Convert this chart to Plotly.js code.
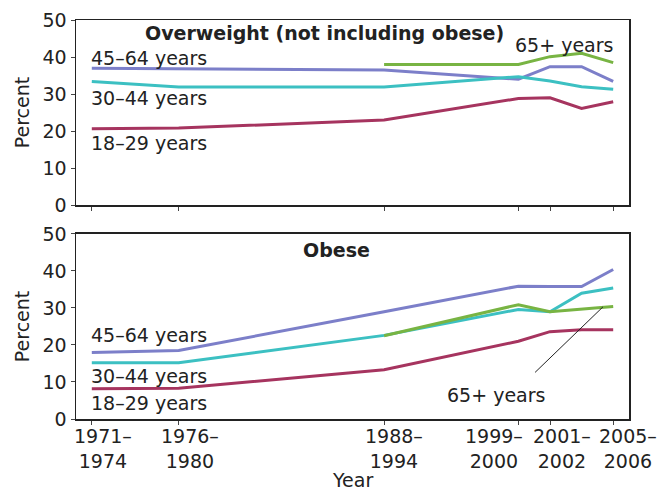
<!DOCTYPE html>
<html>
<head>
<meta charset="utf-8">
<script src="https://cdn.plot.ly/plotly-3.0.1.min.js"></script>
<style>html,body{margin:0;padding:0;background:#fff;}#chart{width:660px;height:493px;}</style>
</head>
<body>
<div id="chart"></div>
<script>
// Survey periods and their midpoint years (x positions on a year scale)
const periods = ['1971–1974','1976–1980','1988–1994','1999–2000','2001–2002','2003–2004','2005–2006'];
const periodMid = [1972.5, 1978, 1991, 1999.5, 2001.5, 2003.5, 2005.5];
const labelledPeriods = ['1971–1974','1976–1980','1988–1994','1999–2000','2001–2002','2005–2006'];

// Overweight (not including obese), percent
const ow_18_29 = [20.6, 20.8, 23.0, 28.8, 29.0, 26.1, 27.9];
const ow_30_44 = [33.4, 31.9, 31.9, 34.7, 33.5, 32.0, 31.3];
const ow_45_64 = [37.0, 36.8, 36.5, 34.0, 37.4, 37.4, 33.4];
const ow_65 = [null, null, 38.0, 38.0, 40.1, 41.0, 38.5];

// Obese, percent
const ob_18_29 = [8.2, 8.3, 13.3, 21.0, 23.6, 24.1, 24.1];
const ob_30_44 = [15.2, 15.2, 22.6, 29.6, 29.0, 34.0, 35.4];
const ob_45_64 = [18.0, 18.5, 29.0, 35.9, 35.8, 35.8, 40.4];
const ob_65 = [null, null, 22.5, 30.9, 29.0, 29.6, 30.4];

const yTicks = [0, 10, 20, 30, 40, 50];

const tickVals = labelledPeriods.map(p => periodMid[periods.indexOf(p)]);
const tickText = labelledPeriods.map(p => p.replace('–', '–<br>'));
// horizontal nudge (px) of each two-line tick label, as set in the original figure
const tickShift = [11, 11, 10, -24, 12, 15];

const C = {a45: '#7c7fc9', a30: '#3cc0c2', a18: '#a6345f', a65: '#78b443'};
const FONT = 'DejaVu Sans, Liberation Sans, Arial, sans-serif';
const TXT = '#222';

function tr(y, color, xa, ya) {
  return {x: periodMid, y: y, type: 'scatter', mode: 'lines', xaxis: xa, yaxis: ya,
          line: {color: color, width: 3}, connectgaps: false, hoverinfo: 'skip'};
}

const data = [
  tr(ow_45_64, C.a45, 'x', 'y'), tr(ow_30_44, C.a30, 'x', 'y'), tr(ow_18_29, C.a18, 'x', 'y'), tr(ow_65, C.a65, 'x', 'y'),
  tr(ob_45_64, C.a45, 'x2', 'y2'), tr(ob_30_44, C.a30, 'x2', 'y2'), tr(ob_18_29, C.a18, 'x2', 'y2'), tr(ob_65, C.a65, 'x2', 'y2')
];

const axLine = {showline: true, mirror: true, linecolor: '#222', linewidth: 1.5, showgrid: false, zeroline: false,
                ticks: 'outside', ticklen: 4, tickwidth: 1, tickcolor: '#444'};

function yax(domain) {
  return Object.assign({}, axLine, {domain: domain, range: [0, 50], tickvals: yTicks,
    tickfont: {family: FONT, size: 19, color: TXT},
    title: {text: 'Percent', font: {family: FONT, size: 19, color: TXT}, standoff: 8}});
}

function note(text, x, y, ref, opts) {
  return Object.assign({text: text, x: x, y: y, xref: 'x' + ref, yref: 'y' + ref, showarrow: false,
    xanchor: 'left', yanchor: 'middle', font: {family: FONT, size: 19, color: TXT}}, opts || {});
}

const tickNotes = tickVals.map((v, i) => ({
  text: tickText[i], x: v, xref: 'x2', y: 0, yref: 'paper', yanchor: 'top', xanchor: 'center',
  xshift: tickShift[i], yshift: -4, showarrow: false, align: 'center',
  font: {family: FONT, size: 19, color: TXT}
}));

const layout = {
  width: 660, height: 493,
  margin: {l: 76, r: 31, t: 20, b: 74},
  paper_bgcolor: '#fff', plot_bgcolor: '#fff',
  showlegend: false,
  xaxis: Object.assign({}, axLine, {domain: [0, 1], anchor: 'y', range: [1971.5, 2006.5],
    tickvals: tickVals, showticklabels: false}),
  yaxis: yax([0.536, 1]),
  xaxis2: Object.assign({}, axLine, {domain: [0, 1], anchor: 'y2', range: [1971.5, 2006.5],
    tickvals: tickVals, showticklabels: false}),
  yaxis2: yax([0, 0.4637]),
  annotations: [
    note('<b>Overweight (not including obese)</b>', 1987.2, 46.5, '', {xanchor: 'center'}),
    note('45–64 years', 1972.3, 39.7, ''),
    note('30–44 years', 1972.3, 28.9, ''),
    note('18–29 years', 1972.3, 16.7, ''),
    note('65+ years', 2002.4, 43.2, '', {xanchor: 'center'}),
    note('<b>Obese</b>', 1988.0, 45.7, '2', {xanchor: 'center'}),
    note('45–64 years', 1972.3, 22.7, '2'),
    note('30–44 years', 1972.3, 11.6, '2'),
    note('18–29 years', 1972.3, 4.3, '2'),
    note('65+ years', 1998.1, 6.5, '2', {xanchor: 'center'}),
    {text: '', x: 2004.85, y: 30.3, xref: 'x2', yref: 'y2', ax: 2000.46, ay: 12.2, axref: 'x2', ayref: 'y2',
     showarrow: true, arrowhead: 0, arrowwidth: 1, arrowcolor: '#222'},
    {text: 'Year', x: 0.5, xref: 'paper', y: 0, yref: 'paper', yanchor: 'middle', xanchor: 'center',
     yshift: -61, showarrow: false, font: {family: FONT, size: 19, color: TXT}}
  ].concat(tickNotes)
};

Plotly.newPlot('chart', data, layout, {staticPlot: true, displayModeBar: false});
</script>
</body>
</html>
